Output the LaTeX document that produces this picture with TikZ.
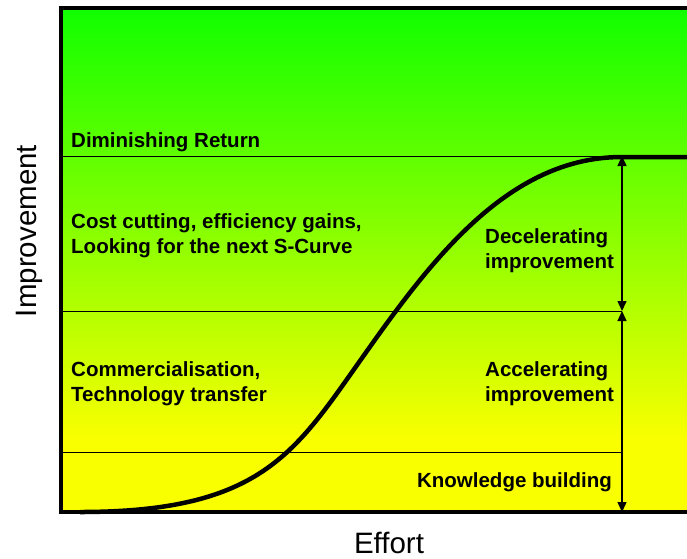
\documentclass[tikz,border=0pt]{standalone}
\usepackage{fontspec}
\setmainfont{Liberation Sans}
\usetikzlibrary{arrows.meta}
\definecolor{topgreen}{RGB}{16,255,0}
\definecolor{sunyellow}{RGB}{250,255,0}

\begin{document}
\begin{tikzpicture}[x=1pt,y=-1pt,>={Triangle[length=10pt,width=9pt]},
        zone label/.style={font=\fontsize{20.5}{25}\selectfont\bfseries,align=left,inner sep=0pt},
        axis label/.style={font=\fontsize{29.5}{30}\selectfont,inner sep=0pt},
        level line/.style={line width=0.8pt},
        span arrow/.style={<->,line width=1.4pt}]
    \useasboundingbox (0,0) rectangle (687,558);
    % background
    \fill[sunyellow] (61,8) rectangle (690,512);
    \shade[top color=topgreen, bottom color=sunyellow] (61,8) rectangle (690,440);
    % phase boundaries
    \coordinate (plateau) at (622,156);
    \coordinate (midline) at (622,311);
    \coordinate (floor) at (622,512);
    \draw[level line] (61,156) -- (690,156);
    \draw[level line] (61,311) -- (midline);
    \draw[level line] (61,452) -- (622,452);
    % s-curve
    \draw[line width=4.5pt] (80,512) .. controls (250,512) and (290,460) .. (350,375)
        .. controls (420,276) and (500,157) .. (622,157) -- (690,157);
    \draw[span arrow] (plateau) -- (midline);
    \draw[span arrow] (midline) -- (floor);
    % frame
    \draw[line width=3.5pt] (690,8) -- (61,8) -- (61,512) -- (690,512);
    \node[zone label, anchor=base west] (diminishing) at (71,147) {Diminishing Return};
    \node[zone label, anchor=base west] (costcut) at (71,253) {Cost cutting, efficiency gains,\\Looking for the next S-Curve};
    \node[zone label, anchor=base west] (decel) at (485,268) {Decelerating\\improvement};
    \node[zone label, anchor=base west] (commerc) at (71,401) {Commercialisation,\\Technology transfer};
    \node[zone label, anchor=base west] (accel) at (485,401) {Accelerating\\improvement};
    \node[zone label, anchor=base east] (knowledge) at (612,487) {Knowledge building};
    \node[axis label, rotate=90, anchor=base] (yaxis) at (36,231) {Improvement};
    \node[axis label, anchor=base] (xaxis) at (389,553) {Effort};
\end{tikzpicture}
\end{document}
